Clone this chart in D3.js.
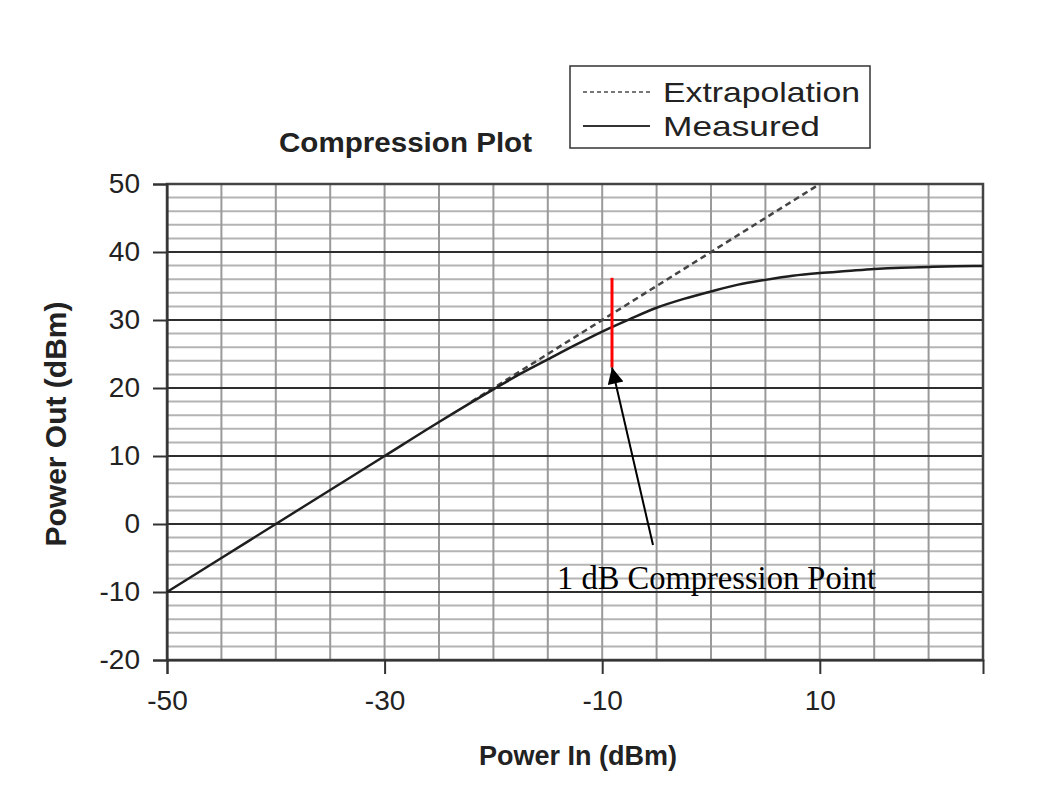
<!DOCTYPE html>
<html>
<head>
<meta charset="utf-8">
<script src="https://cdn.jsdelivr.net/npm/d3@7"></script>
<style>
  body { margin: 0; background: #fff; }
  text { font-family: "Liberation Sans", Arial, sans-serif; }
</style>
</head>
<body>
<svg id="chart" width="1040" height="810"></svg>
<script>
// Measured amplifier response: input power (dBm) vs output power (dBm)
const measuredIn  = [-50, -45, -40, -35, -30, -25, -20, -17.5, -15, -12.5, -10, -7.5, -5, -2.5, 0, 2.5, 5, 7.5, 10, 12.5, 15, 17.5, 20, 22.5, 25];
const measuredOut = [-10, -5, 0, 5, 10, 15, 19.8, 22.1, 24.2, 26.3, 28.3, 30.1, 31.8, 33.1, 34.2, 35.2, 35.9, 36.5, 36.9, 37.2, 37.5, 37.7, 37.8, 37.9, 37.95];

// Linear-gain extrapolation
const extrapIn  = [-22, 10];
const extrapOut = [18, 50];

// 1 dB compression marker
const compressionIn  = -9.1;
const compressionOut = [23, 36.2];

// Axis ticks and grid
const xTickValues = [-50, -30, -10, 10];
const yTickValues = [-20, -10, 0, 10, 20, 30, 40, 50];
const xGridValues = [-45, -40, -35, -30, -25, -20, -15, -10, -5, 0, 5, 10, 15, 20];
const yMinorValues = [-18, -16, -14, -12, -8, -6, -4, -2, 2, 4, 6, 8, 12, 14, 16, 18, 22, 24, 26, 28, 32, 34, 36, 38, 42, 44, 46, 48];
const yMajorValues = [-10, 0, 10, 20, 30, 40];

const legendLabels = ["Extrapolation", "Measured"];

const svg = d3.select("#chart");

const x = d3.scaleLinear().domain([-50, 25]).range([167, 983]);
const y = d3.scaleLinear().domain([-20, 50]).range([660, 184]);

const plot = svg.append("g");

// grid: minor horizontal lines
plot.selectAll(".yminor").data(yMinorValues).enter().append("line")
  .attr("x1", x(-50)).attr("x2", x(25))
  .attr("y1", d => y(d)).attr("y2", d => y(d))
  .attr("stroke", "#b4b4b4").attr("stroke-width", 2);

// grid: vertical lines
plot.selectAll(".xgrid").data(xGridValues).enter().append("line")
  .attr("x1", d => x(d)).attr("x2", d => x(d))
  .attr("y1", y(-20)).attr("y2", y(50))
  .attr("stroke", "#9a9a9a").attr("stroke-width", 2);

// grid: major horizontal lines
plot.selectAll(".ymajor").data(yMajorValues).enter().append("line")
  .attr("x1", x(-50)).attr("x2", x(25))
  .attr("y1", d => y(d)).attr("y2", d => y(d))
  .attr("stroke", "#2e2e2e").attr("stroke-width", 2);

// frame
plot.append("rect")
  .attr("x", x(-50)).attr("y", y(50))
  .attr("width", x(25) - x(-50)).attr("height", y(-20) - y(50))
  .attr("fill", "none").attr("stroke", "#444").attr("stroke-width", 2.5);

// axes (plain hyphen for negative labels)
const fmt = d => String(d);
const yAxis = d3.axisLeft(y).tickValues(yTickValues).tickSize(14).tickPadding(13).tickFormat(fmt);
const xAxis = d3.axisBottom(x).tickValues(xTickValues).tickSize(14).tickPadding(16).tickFormat(fmt);

const gy = svg.append("g").attr("transform", `translate(${x(-50)},0)`).call(yAxis);
const gx = svg.append("g").attr("transform", `translate(0,${y(-20)})`).call(xAxis);
[gy, gx].forEach(g => {
  g.select(".domain").attr("stroke", "#333").attr("stroke-width", 2);
  g.selectAll(".tick line").attr("stroke", "#333").attr("stroke-width", 2);
  g.selectAll(".tick text").attr("font-size", 28).attr("fill", "#222")
    .style("font-family", "'Liberation Sans', Arial, sans-serif");
});

// curves
const measured = measuredIn.map((v, i) => [v, measuredOut[i]]);
const extrap = extrapIn.map((v, i) => [v, extrapOut[i]]);
const line = d3.line().x(d => x(d[0])).y(d => y(d[1])).curve(d3.curveMonotoneX);

svg.append("path").datum(extrap).attr("d", line)
  .attr("fill", "none").attr("stroke", "#444").attr("stroke-width", 2.5)
  .attr("stroke-dasharray", "6,4");

svg.append("path").datum(measured).attr("d", line)
  .attr("fill", "none").attr("stroke", "#1e1e1e").attr("stroke-width", 2.5);

// compression marker
svg.append("line")
  .attr("x1", x(compressionIn)).attr("x2", x(compressionIn))
  .attr("y1", y(compressionOut[1])).attr("y2", y(compressionOut[0]))
  .attr("stroke", "#ff0000").attr("stroke-width", 3);

// arrow to the marker
svg.append("defs").append("marker")
  .attr("id", "arrow").attr("viewBox", "0 0 10 10")
  .attr("refX", 10).attr("refY", 5)
  .attr("markerWidth", 22).attr("markerHeight", 16)
  .attr("markerUnits", "userSpaceOnUse")
  .attr("orient", "auto")
  .append("path").attr("d", "M0,0 L10,5 L0,10 z").attr("fill", "#000");

svg.append("line")
  .attr("x1", 653).attr("y1", 545)
  .attr("x2", x(compressionIn)).attr("y2", y(compressionOut[0]))
  .attr("stroke", "#000").attr("stroke-width", 2)
  .attr("marker-end", "url(#arrow)");

svg.append("text")
  .attr("x", 557).attr("y", 589)
  .attr("font-size", 33)
  .style("font-family", "'Liberation Serif', 'Times New Roman', serif")
  .attr("textLength", 319).attr("lengthAdjust", "spacingAndGlyphs")
  .text("1 dB Compression Point");

// axis titles
svg.append("text")
  .attr("x", 578).attr("y", 765)
  .attr("text-anchor", "middle")
  .attr("font-size", 27).attr("font-weight", "bold").attr("fill", "#222")
  .text("Power In (dBm)");

svg.append("text")
  .attr("transform", "translate(66,424) rotate(-90)")
  .attr("text-anchor", "middle")
  .attr("font-size", 30).attr("font-weight", "bold").attr("fill", "#222")
  .text("Power Out (dBm)");

// chart title
svg.append("text")
  .attr("x", 279).attr("y", 152)
  .attr("font-size", 27).attr("font-weight", "bold").attr("fill", "#222")
  .attr("textLength", 253).attr("lengthAdjust", "spacingAndGlyphs")
  .text("Compression Plot");

// legend
const lg = svg.append("g");
lg.append("rect")
  .attr("x", 570).attr("y", 66).attr("width", 300).attr("height", 82)
  .attr("fill", "#fff").attr("stroke", "#333").attr("stroke-width", 1.5);
const legendRows = [
  { label: legendLabels[0], y: 92, dash: "4,3", color: "#777", w: 197 },
  { label: legendLabels[1], y: 126, dash: null, color: "#333", w: 157 }
];
legendRows.forEach(r => {
  lg.append("line")
    .attr("x1", 583).attr("x2", 650).attr("y1", r.y).attr("y2", r.y)
    .attr("stroke", r.color).attr("stroke-width", 2)
    .attr("stroke-dasharray", r.dash);
  lg.append("text")
    .attr("x", 663).attr("y", r.y + 10)
    .attr("font-size", 28).attr("fill", "#222")
    .attr("textLength", r.w).attr("lengthAdjust", "spacingAndGlyphs")
    .text(r.label);
});
</script>
</body>
</html>
